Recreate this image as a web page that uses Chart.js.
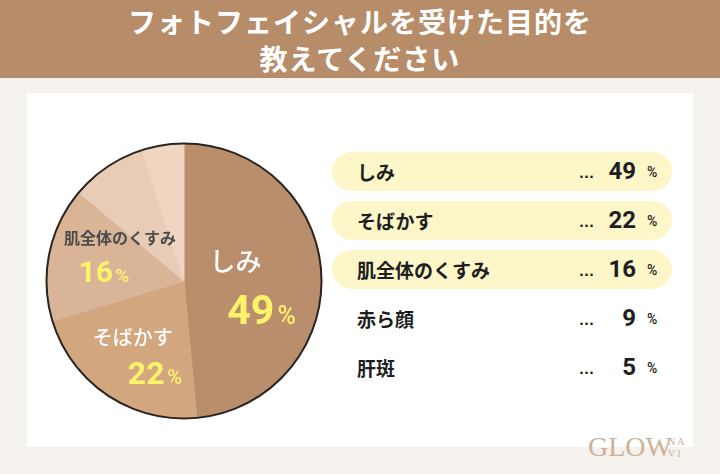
<!DOCTYPE html>
<html>
<head>
<meta charset="utf-8">
<script src="https://cdn.jsdelivr.net/npm/chart.js@4/dist/chart.umd.min.js"></script>
<style>
  html, body { margin: 0; padding: 0; }
  body {
    width: 720px; height: 474px; position: relative; overflow: hidden;
    background: #f5f1ec;
    font-family: "Noto Sans CJK JP", "Noto Sans", sans-serif;
  }
  .banner {
    position: absolute; left: 0; top: 0; width: 720px; height: 78px;
    background: #b78c69; color: #fff; text-align: center;
    font-weight: 700; font-size: 28px; line-height: 37px; padding-top: 3px;
    box-sizing: border-box; letter-spacing: 1px;
  }
  .card { position: absolute; left: 27px; top: 93px; width: 666px; height: 354px; background: #fff; }
  .pie { position: absolute; left: 44px; top: 141px; width: 280px; height: 280px; }
  .row {
    position: absolute; left: 332px; width: 340px; height: 39px; border-radius: 20px;
  }
  .row.hi { background: #fcf6c9; }
  .row .name {
    position: absolute; left: 25px; top: 0; line-height: 39px;
    font-size: 19px; font-weight: 700; color: #1e1e1e;
  }
  .row .dots {
    position: absolute; left: 247px; top: 2px; line-height: 39px;
    font-size: 13px; font-weight: 700; color: #1e1e1e; font-family: "DejaVu Sans", sans-serif;
  }
  .row .num {
    position: absolute; right: 36px; top: 0; line-height: 39px;
    font-size: 24px; font-weight: 700; color: #1e1e1e; font-family: Roboto, sans-serif;
  }
  .row .pct {
    position: absolute; left: 315px; top: 1px; line-height: 39px;
    font-size: 14px; font-weight: 500; color: #1e1e1e; font-family: Roboto, sans-serif;
  }
  .logo {
    position: absolute; left: 588px; top: 430px; color: #cdb19b; height: 34px;
    font-family: "Liberation Serif", "DejaVu Serif", serif; font-size: 28px; line-height: 34px;
  }
  .logo .sm {
    position: absolute; left: 80px; font-size: 10px; letter-spacing: 2px; line-height: 10px;
  }
</style>
</head>
<body>
<div class="banner">フォトフェイシャルを受けた目的を<br>教えてください</div>
<div class="card"></div>
<div class="pie"><canvas id="pieChart"></canvas></div>
<div id="legend"></div>
<div class="logo">GLOW<span class="sm" style="top:7px">NA</span><span class="sm" style="top:19px">VI</span></div>

<script>
const categories = ["しみ", "そばかす", "肌全体のくすみ", "赤ら顔", "肝斑"];
const percents = [49, 22, 16, 9, 5];
const sliceColors = ["#b98e6c", "#d2a67f", "#dab497", "#e8ccb6", "#f0d6c1"];
const highlightCount = 3;

// labels drawn inside the pie (only the first three slices)
const pieLabelStyle = [
  { nameSize: 26, nameWeight: 500, nameColor: "#ffffff", nameDx: -24, nameDy: -16, numSize: 41, pctDx: 2, pctDy: 32 },
  { nameSize: 20, nameWeight: 500, nameColor: "#ffffff", nameDx: -9, nameDy: -6, numSize: 32, pctDx: 13, pctDy: 29 },
  { nameSize: 16, nameWeight: 600, nameColor: "#4c4c4c", nameDx: 10, nameDy: -28, numSize: 30, pctDx: -6, pctDy: 5 },
];

// legend list on the right
const legend = document.getElementById("legend");
categories.forEach((c, i) => {
  const row = document.createElement("div");
  row.className = "row" + (i < highlightCount ? " hi" : "");
  row.style.top = (152 + 49 * i) + "px";
  row.innerHTML = '<span class="name">' + c + '</span><span class="dots">...</span>' +
    '<span class="num">' + percents[i] + '</span><span class="pct">%</span>';
  legend.appendChild(row);
});

const pieDecor = {
  id: "pieDecor",
  afterDatasetsDraw(chart) {
    const ctx = chart.ctx;
    const meta = chart.getDatasetMeta(0);
    const a0 = meta.data[0];
    const cx = a0.x, cy = a0.y, R = a0.outerRadius;

    ctx.save();
    ctx.beginPath();
    ctx.arc(cx, cy, R, 0, Math.PI * 2);
    ctx.lineWidth = 2;
    ctx.strokeStyle = "#2b2420";
    ctx.stroke();

    pieLabelStyle.forEach((s, i) => {
      const arc = meta.data[i];
      const mid = (arc.startAngle + arc.endAngle) / 2;
      const ax = cx + Math.cos(mid) * R * 0.55;
      const ay = cy + Math.sin(mid) * R * 0.55;

      ctx.textAlign = "center";
      ctx.textBaseline = "middle";
      ctx.fillStyle = s.nameColor;
      ctx.font = s.nameWeight + " " + s.nameSize + "px 'Noto Sans CJK JP'";
      ctx.fillText(categories[i], ax + s.nameDx, ay + s.nameDy);

      // number + small %
      const numFont = "700 " + s.numSize + "px Roboto";
      const pctFont = "500 " + Math.round(s.numSize * 0.62) + "px Roboto";
      ctx.font = numFont;
      const w1 = ctx.measureText(String(percents[i])).width;
      ctx.font = pctFont;
      const w2 = ctx.measureText("%").width;
      const gap = s.numSize * 0.08;
      const x0 = ax + s.pctDx - (w1 + gap + w2) / 2;
      const base = ay + s.pctDy + s.numSize * 0.36;
      ctx.textAlign = "left";
      ctx.textBaseline = "alphabetic";
      ctx.fillStyle = "#fff36b";
      ctx.font = numFont;
      ctx.fillText(String(percents[i]), x0, base);
      ctx.font = pctFont;
      ctx.fillText("%", x0 + w1 + gap, base);
    });
    ctx.restore();
  }
};

new Chart(document.getElementById("pieChart"), {
  type: "pie",
  data: {
    labels: categories,
    datasets: [{
      data: percents,
      backgroundColor: sliceColors,
      borderColor: sliceColors,
      borderWidth: 1,
    }],
  },
  options: {
    responsive: true,
    maintainAspectRatio: false,
    animation: false,
    layout: { padding: 2 },
    plugins: { legend: { display: false }, tooltip: { enabled: false } },
  },
  plugins: [pieDecor],
});
</script>
</body>
</html>
